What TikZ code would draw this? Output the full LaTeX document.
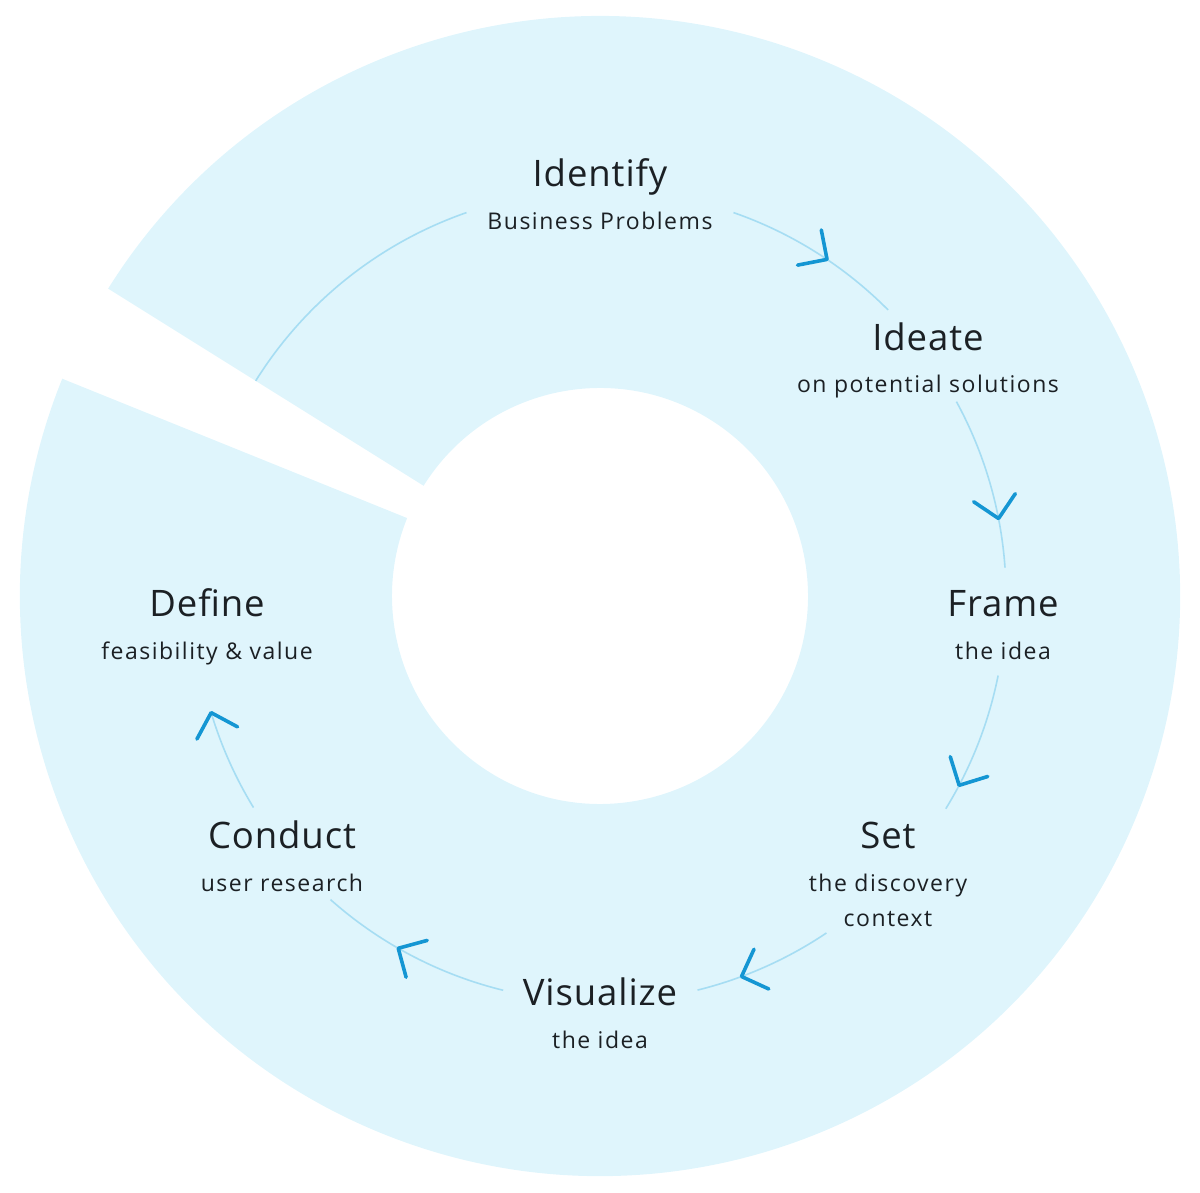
\documentclass[tikz,border=0pt]{standalone}
\usepackage{fontspec}
\setmainfont{Open Sans}
\newfontfamily\titlefont[LetterSpace=2.5]{Open Sans}
\newfontfamily\subfont[LetterSpace=6.5]{Open Sans}
\usetikzlibrary{calc}
\definecolor{ringfill}{HTML}{DFF5FC}
\definecolor{arcline}{HTML}{A6DDF3}
\definecolor{chev}{HTML}{1496D3}
\definecolor{txt}{HTML}{1B2024}
\newcommand\chevat[1]{%
  \draw[chevron] ($(C)+(#1:406)+(#1+45:30)$) -- ($(C)+(#1:406)$) -- ($(C)+(#1:406)+(#1+135:30)$);}
\begin{document}
\begin{tikzpicture}[x=1pt,y=1pt,
  title/.style={anchor=base, font=\titlefont\fontsize{36.5}{40}\selectfont, text=txt, inner sep=0pt},
  sub/.style={anchor=base, font=\subfont\fontsize{23}{27}\selectfont, text=txt, inner sep=0pt},
  flow/.style={draw=arcline, line width=1.6pt},
  chevron/.style={draw=chev, line width=3.6pt, line cap=round, line join=round}]
\useasboundingbox (0,0) rectangle (1200,1192);
\coordinate (C) at (600,596);
% ring with wedge gap
\fill[ringfill] ($(C)+(158:580)$) arc[start angle=158, end angle=508, radius=580]
  -- ($(C)+(148:208)$) arc[start angle=148, end angle=-202, radius=208] -- cycle;
% flow arcs
\draw[flow] ($(C)+(148:406)$) arc[start angle=148, end angle=109.2, radius=406];
\draw[flow] ($(C)+(70.8:406)$) arc[start angle=70.8, end angle=44.8, radius=406];
\draw[flow] ($(C)+(28.6:406)$) arc[start angle=28.6, end angle=4, radius=406];
\draw[flow] ($(C)+(-11.3:406)$) arc[start angle=-11.3, end angle=-31.6, radius=406];
\draw[flow] ($(C)+(-56.1:406)$) arc[start angle=-56.1, end angle=-76.1, radius=406];
\draw[flow] ($(C)+(-103.8:406)$) arc[start angle=-103.8, end angle=-131.6, radius=406];
\draw[flow] ($(C)+(-148.6:406)$) arc[start angle=-148.6, end angle=-163.3, radius=406];
% chevrons
\chevat{56}
\chevat{11}
\chevat{-27.8}
\chevat{-69.6}
\chevat{-119.8}
\chevat{-163.3}
% labels
\node[title] (identify) at (600,1005) {Identify};
\node[sub] (identifys) at (600,962) {Business Problems};
\node[title] (ideate) at (928,841) {Ideate};
\node[sub] (ideates) at (928,799) {on potential solutions};
\node[title] (frame) at (1003,575) {Frame};
\node[sub] (frames) at (1003,532) {the idea};
\node[title] (set) at (888,343) {Set};
\node[sub] (sets) at (888,300) {the discovery};
\node[sub] (sets2) at (888,265) {context};
\node[title] (visualize) at (600,186) {Visualize};
\node[sub] (visualizes) at (600,143) {the idea};
\node[title] (conduct) at (282,343) {Conduct};
\node[sub] (conducts) at (282,300) {user research};
\node[title] (define) at (207,575) {Define};
\node[sub] (defines) at (207,532) {feasibility \& value};
\end{tikzpicture}
\end{document}
